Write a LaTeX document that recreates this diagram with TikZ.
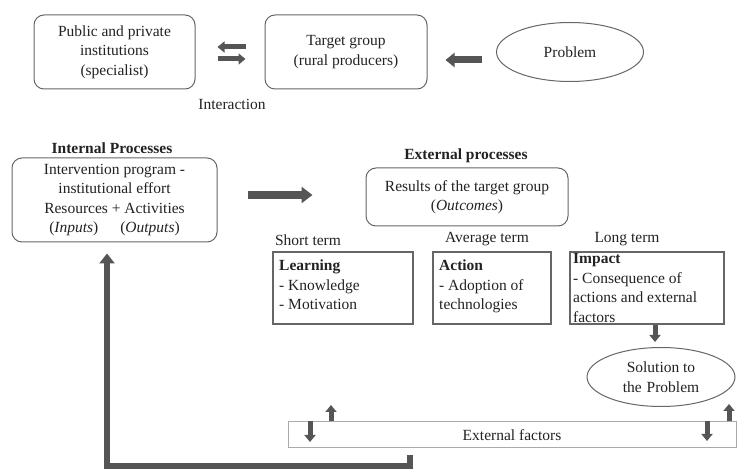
\documentclass[tikz,border=0pt]{standalone}
\usepackage{fontspec}
\setmainfont{Liberation Serif}
\usetikzlibrary{arrows.meta,shapes.geometric}
\definecolor{arrowgray}{HTML}{555555}
\definecolor{boxgray}{HTML}{666666}
\definecolor{lightbox}{HTML}{AAAAAA}
\definecolor{txt}{HTML}{222222}
\begin{document}
\begin{tikzpicture}[x=1pt,y=-1pt,
  every node/.style={text=txt,font=\fontsize{15.5}{19.5}\selectfont},
  rbox/.style={draw=boxgray,line width=1pt,rounded corners=10pt,align=center,inner sep=0pt},
  sbox/.style={draw=boxgray,line width=1.1pt,inner sep=0pt},
  oval/.style={draw=boxgray,line width=1pt,ellipse,inner sep=0pt,align=center},
  plain/.style={inner sep=0pt,align=center},
  arrmid/.style={draw=arrowgray,line width=5pt,-{Triangle[width=11pt,length=7pt]}},
  arrbig/.style={draw=arrowgray,line width=8.5pt,-{Triangle[width=16pt,length=11pt]}},
  arrsmall/.style={draw=arrowgray,line width=5pt,-{Triangle[width=11pt,length=7pt]}},
  arrL/.style={draw=arrowgray,line width=6.5pt,-{Triangle[width=15pt,length=10pt]}}
]
\useasboundingbox (0,0) rectangle (737,470);

% top row
\node[rbox,minimum width=161pt,minimum height=74pt] (pub) at (114.5,52)
  {Public and private\\institutions\\(specialist)};
\node[rbox,minimum width=162pt,minimum height=74pt] (tg) at (346,52)
  {Target group\\(rural producers)};
\node[oval,minimum width=147pt,minimum height=59pt] (prob) at (570,52) {Problem};
\node[plain] (inter) at (232,104) {Interaction};

\draw[arrmid,shorten <=19pt,shorten >=22pt] ([yshift=5pt]tg.west) -- ([yshift=5pt]pub.east);
\draw[arrmid,shorten <=22pt,shorten >=19pt] ([yshift=-7pt]pub.east) -- ([yshift=-7pt]tg.west);
\draw[arrmid,line width=7pt,-{Triangle[width=14pt,length=9pt]},shorten <=14pt,shorten >=18pt]
  ([yshift=-8pt]prob.west) -- ([yshift=-8pt]prob.west -| tg.east);

% internal processes
\node[plain,font=\fontsize{15.5}{19.5}\selectfont\bfseries] (intlab) at (112,148) {Internal Processes};
\node[rbox,minimum width=205pt,minimum height=84pt] (intv) at (114.5,200)
  {Intervention program -\\institutional effort\\Resources + Activities\\(\textit{Inputs})\hspace{22pt}(\textit{Outputs})};

% external processes
\node[plain,font=\fontsize{15.5}{19.5}\selectfont\bfseries] (extlab) at (466,156) {External processes};
\node[rbox,minimum width=202pt,minimum height=58pt] (res) at (467,197)
  {Results of the target group\\(\textit{Outcomes})};

\draw[arrbig,shorten <=30pt,shorten >=53pt] ([yshift=5pt]intv.east) -- ([yshift=5pt]intv.east -| res.west);

\node[plain] (short) at (308,240) {Short term};
\node[plain] (avg) at (487,239) {Average term};
\node[plain] (long) at (627,239) {Long term};

\node[sbox,minimum width=140pt,minimum height=72pt] (learn) at (343,288) {};
\node[plain,anchor=north west,align=left] (learntxt) at (279,260)
  {\textbf{Learning}\\- Knowledge\\- Motivation};
\node[sbox,minimum width=118pt,minimum height=72pt] (act) at (492,288) {};
\node[plain,anchor=north west,align=left] (acttxt) at (439,260)
  {\textbf{Action}\\- Adoption of\\technologies};
\node[sbox,minimum width=154pt,minimum height=72pt] (imp) at (647,288) {};
\node[plain,anchor=north west,align=left] (imptxt) at (573,253.5)
  {\textbf{Impact}\\- Consequence of\\actions and external\\factors};

\node[oval,minimum width=148pt,minimum height=59pt] (sol) at (661,377)
  {Solution to\\the\hspace{5pt}Problem};
\draw[arrsmall,shorten >=5pt] ([xshift=8pt]imp.south) -- ([xshift=8pt]imp.south |- sol.north);

% external factors
\node[draw=lightbox,line width=1pt,minimum width=448pt,minimum height=26pt,inner sep=0pt] (ext) at (512,435) {External factors};

\coordinate (u1) at (331,405);
\coordinate (d1) at (310,442);
\coordinate (d2) at (707,441);
\coordinate (u2) at (729,404);
\draw[arrsmall] (ext.north -| u1) -- (u1);
\draw[arrsmall] (ext.north -| d1) -- (d1);
\draw[arrsmall] (ext.north -| d2) -- (d2);
\draw[arrsmall] (ext.north -| u2) -- (u2);

% feedback L-arrow
\coordinate (lstart) at (410,455);
\coordinate (lcorner) at (107,466);
\draw[arrL,shorten >=11pt] (lstart) |- (lcorner) -- (lcorner |- intv.south);
\end{tikzpicture}
\end{document}
